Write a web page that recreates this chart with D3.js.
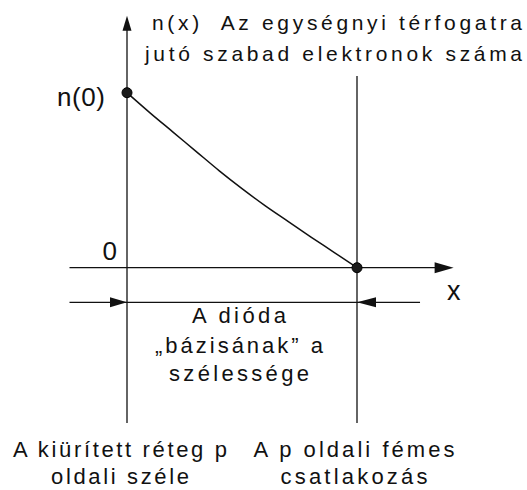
<!doctype html>
<html>
    <head>
        <meta charset="utf-8">
        <title>n(x) a dióda bázisában</title>
        <script src="https://d3js.org/d3.v7.min.js"></script>
        <style>
            body { margin: 0; background: #fff; }
            text { font-family: "Liberation Sans", Arial, sans-serif; fill: #111; white-space: pre; }
        </style>
    </head>

    <body>
        <script>
            // position across the base (0 = depletion edge, 1 = metal contact)
            var xs = [0, 0.1, 0.2, 0.3, 0.4, 0.5, 0.6, 0.7, 0.8, 0.9, 1];
            // relative electron density n(x)/n(0)
            var nValues = [1, 0.885, 0.775, 0.665, 0.555, 0.452, 0.355, 0.265, 0.175, 0.088, 0];

            var yAxisLabel = ["n(x)  Az egységnyi térfogatra", "jutó szabad elektronok száma"];
            var startLabel = "n(0)";
            var zeroLabel = "0";
            var xAxisLabel = "x";
            var widthLabel = ["A dióda", "„bázisának” a", "szélessége"];
            var leftEdgeLabel = ["A kiürített réteg p", "oldali széle"];
            var rightEdgeLabel = ["A p oldali fémes", "csatlakozás"];

            var width = 527;
            var height = 490;

            var svg = d3.select("body")
                .append("svg")
                .attr("width", width)
                .attr("height", height);

            var x = d3.scaleLinear().domain([0, 1]).range([127, 357]);
            var y = d3.scaleLinear().domain([0, 1]).range([267.7, 92.7]);

            var ink = "#111";

            // arrowhead helper: tip at (tx,ty), pointing in direction (dx,dy)
            function arrow(tx, ty, dx, dy, len, half) {
                var bx = tx - dx * len, by = ty - dy * len;
                var px = -dy * half, py = dx * half;
                svg.append("path")
                    .attr("d", "M" + tx + "," + ty + "L" + (bx + px) + "," + (by + py) +
                        "L" + (bx - px) + "," + (by - py) + "Z")
                    .attr("fill", ink);
            }

            function line(x1, y1, x2, y2) {
                svg.append("line")
                    .attr("x1", x1).attr("y1", y1)
                    .attr("x2", x2).attr("y2", y2)
                    .attr("stroke", ink)
                    .attr("stroke-width", 1.3);
            }

            // vertical axis (n) with arrow
            line(x(0), y(1.36), x(0), y(-0.887));
            arrow(x(0), y(1.44), 0, -1, 15, 4.5);

            // right boundary (metal contact)
            line(x(1), y(1.095), x(1), y(-0.887));

            // horizontal axis with arrow
            line(x(-0.25), y(0), x(1.36), y(0));
            arrow(x(1.42), y(0), 1, 0, 19, 5.5);

            // width dimension line with inward arrows
            var dimY = y(-0.198);
            line(x(-0.25), dimY, x(1.274), dimY);
            arrow(x(0), dimY, 1, 0, 17, 5);
            arrow(x(1), dimY, -1, 0, 19, 5);

            // n(x) curve
            var curve = d3.line()
                .x(function (d, i) { return x(xs[i]); })
                .y(function (d) { return y(d); })
                .curve(d3.curveMonotoneX);

            svg.append("path")
                .datum(nValues)
                .attr("d", curve)
                .attr("fill", "none")
                .attr("stroke", ink)
                .attr("stroke-width", 1.5);

            // end points
            svg.selectAll(".dot")
                .data([0, nValues.length - 1])
                .enter().append("circle")
                .attr("class", "dot")
                .attr("cx", function (i) { return x(xs[i]); })
                .attr("cy", function (i) { return y(nValues[i]); })
                .attr("r", 5)
                .attr("fill", "#1a1a1a")
                .attr("stroke", "#000")
                .attr("stroke-width", 1);

            // text helper with fixed width
            function label(str, xStart, base, size, len) {
                var t = svg.append("text")
                    .attr("x", xStart)
                    .attr("y", base)
                    .attr("font-size", size)
                    .text(str);
                if (len) t.attr("textLength", len).attr("lengthAdjust", "spacing");
                return t;
            }

            // y axis caption
            label(yAxisLabel[0], 152, 30, 21, 370);
            label(yAxisLabel[1], 145, 61, 21, 377);

            label(startLabel, 57, 106, 26, 48);
            label(zeroLabel, 117, 260, 26).attr("text-anchor", "end");
            label(xAxisLabel, 447, 300, 27);

            // width caption, centred between the two boundaries
            var widthLens = [94, 168, 140];
            var widthBase = [323, 353, 381];
            widthLabel.forEach(function (s, i) {
                label(s, 239 - widthLens[i] / 2, widthBase[i], 22, widthLens[i]);
            });

            // captions under the two boundaries
            var leftLens = [214, 138];
            var rightLens = [201, 147];
            var edgeBase = [457, 484];
            leftEdgeLabel.forEach(function (s, i) {
                label(s, 120 - leftLens[i] / 2, edgeBase[i], 22, leftLens[i]);
            });
            rightEdgeLabel.forEach(function (s, i) {
                label(s, 354 - rightLens[i] / 2, edgeBase[i], 22, rightLens[i]);
            });
        </script>
    </body>
</html>
